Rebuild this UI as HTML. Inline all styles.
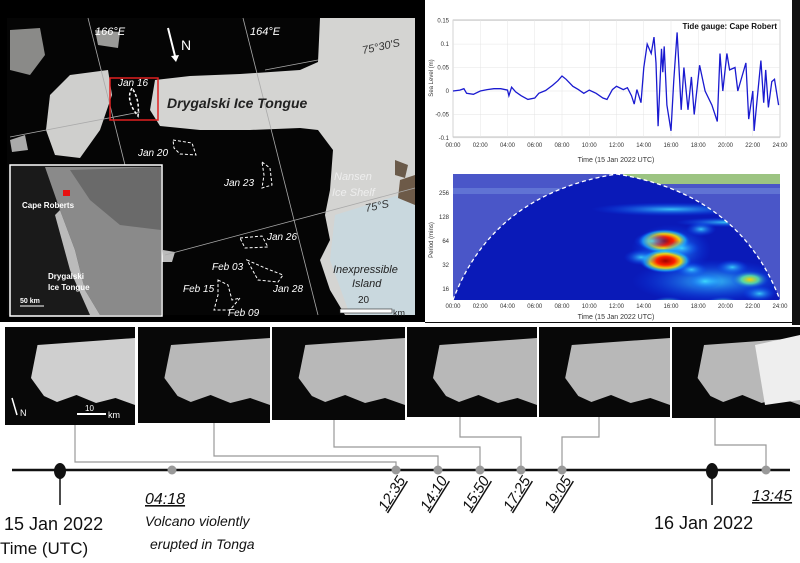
<!DOCTYPE html>
<html><head><meta charset="utf-8"><style>
body{margin:0;width:800px;height:563px;overflow:hidden;background:#fff;font-family:"Liberation Sans",sans-serif;position:relative}
.a{position:absolute}
svg text{font-family:"Liberation Sans",sans-serif}
</style></head><body>
<svg class="a" style="left:0;top:0" width="800" height="563">
<g>
<rect x="0" y="0" width="425" height="322" fill="#000"/>
<rect x="7" y="18" width="408" height="297" fill="#050505"/>
<polygon points="320,18 415,18 415,315 345,315 330,290 320,260 330,240 325,215 330,190 333,150 318,130 300,128 250,130 200,130 160,126 150,110 155,80 190,76 240,74 300,70 318,62" fill="#d4d4d2"/>
<polygon points="335,215 415,190 415,315 350,315 330,260" fill="#c9d8de"/>
<polygon points="50,95 70,75 108,70 112,95 100,130 80,158 55,155 46,130" fill="#cfcfcd"/>
<polygon points="10,30 40,28 45,55 30,75 10,70" fill="#8a8a88"/>
<polygon points="95,30 120,32 118,48 98,45" fill="#9a9a98"/>
<polygon points="10,140 25,135 28,150 12,152" fill="#aaa"/>
<polygon points="163,250 175,252 172,262 162,262" fill="#bbb"/>
<polygon points="395,160 408,165 405,178 395,175" fill="#6a5a4a"/>
<polygon points="400,180 415,175 415,205 398,198" fill="#6d5a48"/>
<g stroke="#aaa" stroke-width="0.8" fill="none">
<line x1="88" y1="18" x2="125" y2="165"/><line x1="243" y1="18" x2="318" y2="315"/>
<line x1="10" y1="137" x2="140" y2="112"/><line x1="265" y1="70" x2="318" y2="60"/>
<line x1="165" y1="255" x2="415" y2="188"/></g>
<rect x="110" y="78" width="48" height="42" fill="none" stroke="#e02020" stroke-width="1.5"/>
<g fill="none" stroke="#fff" stroke-width="1" stroke-dasharray="3,2">
<path d="M132,88 Q125,100 138,116 Q140,100 132,88" stroke-width="1.5"/>
<path d="M173,140 L192,143 L196,155 L180,154 L174,148Z"/>
<path d="M262,162 L270,168 L272,185 L262,188 L264,175Z"/>
<path d="M240,238 L262,236 L268,247 L245,248Z"/>
<path d="M247,260 L265,268 L283,275 L278,282 L258,280Z"/>
<path d="M218,280 L228,285 L232,300 L240,298 L230,310 L214,310 L218,295Z"/>
</g>
<g fill="#fff" font-size="11" font-style="italic">
<text x="95" y="35">166°E</text>
<text x="250" y="35">164°E</text>
<text x="363" y="54" transform="rotate(-12 363 54)" fill="#333">75°30'S</text>
<text x="118" y="86" font-size="10">Jan 16</text>
<text x="167" y="108" font-size="14" font-weight="bold" fill="#222">Drygalski Ice Tongue</text>
<text x="138" y="156" font-size="10">Jan 20</text>
<text x="224" y="186" font-size="10">Jan 23</text>
<text x="334" y="180" font-size="11" fill="#eee">Nansen</text>
<text x="332" y="196" font-size="11" fill="#eee">Ice Shelf</text>
<text x="366" y="212" transform="rotate(-12 366 212)" fill="#333">75°S</text>
<text x="267" y="240" font-size="10">Jan 26</text>
<text x="212" y="270" font-size="10">Feb 03</text>
<text x="273" y="292" font-size="10">Jan 28</text>
<text x="183" y="292" font-size="10">Feb 15</text>
<text x="228" y="316" font-size="10">Feb 09</text>
<text x="333" y="273" font-size="11" fill="#222">Inexpressible</text>
<text x="352" y="287" font-size="11" fill="#222">Island</text>
<text x="358" y="303" font-size="10" font-style="normal" fill="#222">20</text>
<text x="393" y="316" font-size="9" font-style="normal" fill="#222">km</text>
</g>
<rect x="340" y="309" width="52" height="4" fill="#fff" stroke="#222" stroke-width="0.6"/>
<line x1="168" y1="28" x2="175" y2="56" stroke="#fff" stroke-width="2"/>
<polygon points="171,56 179,55 176,62" fill="#fff"/>
<text x="181" y="50" fill="#fff" font-size="14">N</text>
<g>
<rect x="10" y="165" width="152" height="151" fill="#1a1a1a" stroke="#fff" stroke-width="1.5"/>
<polygon points="45,167 161,167 161,315 100,315 85,290 75,250 60,210" fill="#8a8a8a"/>
<polygon points="70,170 161,167 161,230 120,225 90,200" fill="#6a6a6a"/>
<polygon points="60,210 75,250 85,290 100,315 90,315 70,270 55,215" fill="#bbb"/>
<rect x="63" y="190" width="7" height="6" fill="#e81010"/>
<text x="22" y="208" fill="#fff" font-size="8" font-weight="bold">Cape Roberts</text>
<text x="48" y="279" fill="#fff" font-size="8" font-weight="bold">Drygalski</text>
<text x="48" y="290" fill="#fff" font-size="8" font-weight="bold">Ice Tongue</text>
<text x="20" y="303" fill="#fff" font-size="7" font-weight="bold">50 km</text>
<line x1="20" y1="306" x2="44" y2="306" stroke="#fff"/>
</g>
</g>
<rect x="792" y="0" width="8" height="325" fill="#111"/>
<rect x="425" y="318" width="367" height="5" fill="#111"/>
<g id="tide"></g>
<g id="wave"></g>
<g id="bottom"></g>
</svg>
<script>
const NS="http://www.w3.org/2000/svg";
function mk(p,t,a){const e=document.createElementNS(NS,t);for(const k in a)e.setAttribute(k,a[k]);p.appendChild(e);return e;}
const tideHours=[0,0.5,0.8,1,1.5,2,2.5,3,3.5,4,4.1,4.3,4.6,5,5.5,6,6.3,6.8,7.3,7.7,8,8.3,8.8,9.2,9.6,10,10.5,11,11.3,11.7,12,12.5,12.8,13.1,13.3,13.5,13.8,14,14.25,14.55,14.75,14.9,15.05,15.3,15.4,15.5,15.7,16,16.2,16.45,16.55,16.75,16.95,17.25,17.5,17.7,18.1,18.5,19,19.4,19.6,19.8,20.1,20.3,20.7,20.9,21.5,21.7,22,22.1,22.6,22.8,22.95,23.15,23.4,23.6,23.9];
const tideLevel=[0,0.002,0.005,-0.005,-0.007,0,0.003,0.005,0.005,0.002,-0.01,0.008,-0.002,-0.01,-0.018,-0.015,-0.005,0.001,0.012,0.022,0.032,0.025,0.01,0.003,-0.005,0.002,-0.005,-0.015,-0.018,0.003,0.01,0.003,0.007,-0.01,-0.028,0.003,-0.025,0.05,0.1,0.08,0.115,0.06,-0.075,0.09,0.04,0.095,-0.03,-0.085,0.02,0.125,0.07,-0.04,0.05,-0.04,0.03,-0.05,0.055,0,-0.03,-0.065,0.08,0,0.08,0.045,0.05,0,0.06,-0.06,0,-0.085,0.065,-0.025,0.045,-0.035,0.02,0.025,-0.03];
const timeTicks=["00:00","02:00","04:00","06:00","08:00","10:00","12:00","14:00","16:00","18:00","20:00","22:00","24:00"];
const levelTicks=[-0.1,-0.05,0,0.05,0.1,0.15];
const periodTicks=[16,32,64,128,256];
const waveHour=[15.5,15.6,14.6,16.8,21.8,15.8,19.8,18.5,20.5,13.8,22.5,17.5,18.2];
const wavePeriod=[64,36,64,52,21,10,10,20,30,40,14,28,90];
const wavePower=[1,1,0.55,0.55,0.62,0.6,0.6,0.5,0.45,0.5,0.5,0.45,0.4];
const X0=453,X1=780;
const xh=h=>X0+(X1-X0)*h/24;
const yl=v=>91-v*469;
const tide=document.getElementById('tide');
mk(tide,'rect',{x:425,y:0,width:367,height:322,fill:'#fff'});
mk(tide,'rect',{x:X0,y:20,width:X1-X0,height:117,fill:'#fff',stroke:'#999','stroke-width':0.6});
timeTicks.forEach((t,i)=>{const x=xh(i*2);
 mk(tide,'line',{x1:x,y1:20,x2:x,y2:137,stroke:'#e4e4e4','stroke-width':0.5});
 const tx=mk(tide,'text',{x:x,y:147,'font-size':6,'text-anchor':'middle',fill:'#333'});tx.textContent=t;
 const tx2=mk(tide,'text',{x:x,y:308,'font-size':6,'text-anchor':'middle',fill:'#333'});tx2.textContent=t;});
levelTicks.forEach(v=>{const y=yl(v);
 mk(tide,'line',{x1:X0,y1:y,x2:X1,y2:y,stroke:'#e4e4e4','stroke-width':0.5});
 const tx=mk(tide,'text',{x:X0-4,y:y+2,'font-size':6,'text-anchor':'end',fill:'#333'});tx.textContent=v;});
let d='';tideHours.forEach((h,i)=>{d+=(i?'L':'M')+xh(h).toFixed(1)+','+yl(tideLevel[i]).toFixed(1);});
const ln=mk(tide,'path',{d:d,fill:'none',stroke:'#1a1ad0','stroke-width':1.3});


let t1=mk(tide,'text',{x:777,y:29,'font-size':8,'font-weight':'bold','text-anchor':'end',fill:'#111'});t1.textContent='Tide gauge: Cape Robert';
let t2=mk(tide,'text',{x:616,y:162,'font-size':7,'text-anchor':'middle',fill:'#333'});t2.textContent='Time (15 Jan 2022 UTC)';
let t3=mk(tide,'text',{x:433,y:78,'font-size':6,'text-anchor':'middle',fill:'#333',transform:'rotate(-90 433 78)'});t3.textContent='Sea Level (m)';
const W=document.getElementById('wave');
const WY0=174,WY1=300;
const yp=p=>289-24*Math.log2(p/16);
const defs=mk(W,'defs',{});
const rg=mk(defs,'radialGradient',{id:'hot'});
[['0%','#a00000',1],['35%','#ff2000',1],['60%','#ffe000',0.9],['82%','#20d0ff',0.6],['100%','#0040ff',0]].forEach(s=>mk(rg,'stop',{offset:s[0],'stop-color':s[1],'stop-opacity':s[2]}));
const rg3=mk(defs,'radialGradient',{id:'warm'});
[['0%','#ffd000',1],['45%','#60f0a0',0.8],['100%','#0040ff',0]].forEach(s=>mk(rg3,'stop',{offset:s[0],'stop-color':s[1],'stop-opacity':s[2]}));
const rg2=mk(defs,'radialGradient',{id:'cool'});
[['0%','#40e0ff',0.85],['100%','#0040ff',0]].forEach(s=>mk(rg2,'stop',{offset:s[0],'stop-color':s[1],'stop-opacity':s[2]}));
const cp=mk(defs,'clipPath',{id:'wclip'});mk(cp,'rect',{x:X0,y:WY0,width:X1-X0,height:WY1-WY0});
const g=mk(W,'g',{'clip-path':'url(#wclip)'});
mk(g,'rect',{x:X0,y:WY0,width:X1-X0,height:WY1-WY0,fill:'#4a56c8'});
mk(g,'rect',{x:X0,y:WY0+14,width:X1-X0,height:6,fill:'#6a80d8',opacity:0.7});
mk(g,'rect',{x:X0+170,y:WY0,width:157,height:10,fill:'#b0e070',opacity:0.8});
const cone=`M${X0},${WY1} Q${X0+40},${WY0+20} ${xh(12)},${WY0} Q${X1-40},${WY0+20} ${X1},${WY1}Z`;
const cp2=mk(defs,'clipPath',{id:'cclip'});mk(cp2,'path',{d:cone});
mk(g,'path',{d:cone,fill:'#0a1ab8'});
const gc=mk(g,'g',{'clip-path':'url(#cclip)'});
mk(gc,'ellipse',{cx:xh(16),cy:yp(160),rx:80,ry:7,fill:'url(#cool)'});
mk(gc,'ellipse',{cx:xh(20),cy:yp(110),rx:50,ry:5,fill:'url(#cool)'});
mk(gc,'ellipse',{cx:xh(19),cy:yp(20),rx:80,ry:22,fill:'url(#cool)'});
mk(gc,'ellipse',{cx:xh(16),cy:yp(50),rx:40,ry:25,fill:'url(#cool)'});
waveHour.forEach((h,i)=>{const pw=wavePower[i];
 const e=mk(gc,'ellipse',{cx:xh(h),cy:yp(wavePeriod[i]),rx:8+pw*18,ry:4+pw*8,fill:pw>0.9?'url(#hot)':(pw>0.58?'url(#warm)':'url(#cool)')});
 
 });
mk(g,'path',{d:`M${X0},${WY1} Q${X0+40},${WY0+20} ${xh(12)},${WY0} Q${X1-40},${WY0+20} ${X1},${WY1}`,fill:'none',stroke:'#fff','stroke-width':1.3,'stroke-dasharray':'4,3'});
periodTicks.forEach(p=>{const t=mk(W,'text',{x:X0-4,y:yp(p)+2,'font-size':6,'text-anchor':'end',fill:'#333'});t.textContent=p;});
let t4=mk(W,'text',{x:616,y:319,'font-size':7,'text-anchor':'middle',fill:'#333'});t4.textContent='Time (15 Jan 2022 UTC)';
let t5=mk(W,'text',{x:433,y:240,'font-size':6,'text-anchor':'middle',fill:'#333',transform:'rotate(-90 433 240)'});t5.textContent='Period (mins)';
const B=document.getElementById('bottom');
const panels=[[5,135,425],[138,270,423],[272,405,420],[407,537,417],[539,670,417],[672,800,418]];
const times=["12:35","14:10","15:50","17:25","19:05","13:45"];
const dotX=[396,438,480,521,562,766];
const panelX=[75,214,334,460,599,715];
const joinY=[462,456,447,437,437,445];
panels.forEach((p,i)=>{const r=mk(B,'rect',{x:p[0],y:327,width:p[1]-p[0],height:p[2]-327,fill:'#080808'});
 
 
 const x=p[0],w=p[1]-p[0];
 mk(B,'polygon',{points:`${x+w*0.25},${345} ${x+w},${338} ${x+w},${405} ${x+w*0.85},${398} ${x+w*0.7},${403} ${x+w*0.55},${395} ${x+w*0.4},${402} ${x+w*0.3},${396} ${x+w*0.2},${378}`,fill:i<1?'#cfcfcf':'#b8b8b8'});
 mk(B,'polyline',{points:`${panelX[i]},${p[2]} ${panelX[i]},${joinY[i]} ${dotX[i]},${joinY[i]} ${dotX[i]},470`,fill:'none',stroke:'#999','stroke-width':1.2});
});
mk(B,'polygon',{points:'755,345 800,335 800,400 765,405',fill:'#eee'});
mk(B,'line',{x1:12,y1:470,x2:790,y2:470,stroke:'#111','stroke-width':2.5,});
[60,712].forEach(x=>{mk(B,'line',{x1:x,y1:470,x2:x,y2:505,stroke:'#111','stroke-width':1.5});mk(B,'ellipse',{cx:x,cy:471,rx:6,ry:8,fill:'#111'});});
[172].concat(dotX).forEach(x=>mk(B,'circle',{cx:x,cy:470,r:4.5,fill:'#999'}));
times.slice(0,5).forEach((t,i)=>{const x=dotX[i]-10,y=512;
 const tx=mk(B,'text',{x:x,y:y,'font-size':15,'font-style':'italic',fill:'#111',transform:`rotate(-58 ${x} ${y})`,'text-decoration':'underline'});tx.textContent=t;});
const lab=(x,y,s,t,it)=>{const e=mk(B,'text',{x:x,y:y,'font-size':s,fill:'#111','font-style':it?'italic':'normal'});e.textContent=t;return e;};
const a=lab(752,501,16,'13:45',1);a.setAttribute('text-decoration','underline');
const b=lab(145,504,16,'04:18',1);b.setAttribute('text-decoration','underline');
lab(145,526,14,'Volcano violently',1);lab(150,549,14,'erupted in Tonga',1);
lab(4,530,18,'15 Jan 2022',0);lab(0,554,17,'Time (UTC)',0);lab(654,529,18,'16 Jan 2022',0);
mk(B,'line',{x1:12,y1:398,x2:17,y2:415,stroke:'#fff','stroke-width':1.5});
lab(20,416,9,'N',0).setAttribute('fill','#fff');
mk(B,'line',{x1:77,y1:414,x2:106,y2:414,stroke:'#fff','stroke-width':2});
lab(85,411,8,'10',0).setAttribute('fill','#fff');lab(108,418,9,'km',0).setAttribute('fill','#fff');
</script>
</body></html>
